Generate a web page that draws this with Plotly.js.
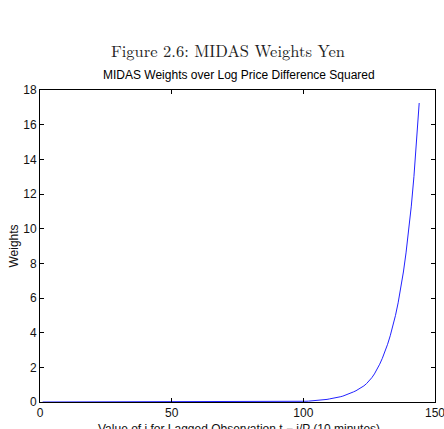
<!DOCTYPE html>
<html>
<head>
<meta charset="utf-8">
<script src="https://cdn.plot.ly/plotly-3.0.1.min.js"></script>
<style>
html,body{margin:0;padding:0;background:#fff;}
#chart{width:444px;height:429px;}
</style>
</head>
<body>
<div id="chart"></div>
<script>
// Lag index i (10-minute intervals)
var lagIndex = [1, 10, 20, 30, 40, 50, 60, 70, 80, 85, 90, 92, 94, 96, 98, 100, 101, 102, 103, 104, 105, 106, 107, 108, 109,
  110, 111, 112, 113, 114, 115, 116, 117, 118, 119, 120, 121, 122, 123, 124, 125, 126, 127, 128, 129,
  130, 131, 132, 133, 134, 135, 136, 137, 138, 139, 140, 141, 142, 143, 144];
// MIDAS weights
var weights = [0, 0, 0, 0, 0, 0, 0, 0.0002, 0.001, 0.003, 0.007, 0.01, 0.014, 0.02, 0.027, 0.037, 0.043, 0.05, 0.06, 0.07, 0.08, 0.095, 0.11, 0.13, 0.15,
  0.18, 0.2, 0.23, 0.26, 0.3, 0.34, 0.39, 0.45, 0.51, 0.58, 0.65, 0.73, 0.82, 0.93, 1.06, 1.22, 1.4, 1.62, 1.88, 2.18,
  2.52, 2.9, 3.33, 3.82, 4.38, 5.0, 5.72, 6.55, 7.5, 8.6, 9.85, 11.3, 13.0, 15.0, 17.25];
var xTicks = [0, 50, 100, 150];
var yTicks = [0, 2, 4, 6, 8, 10, 12, 14, 16, 18];

var figureTitle = "Figure 2.6: MIDAS Weights Yen";
var plotTitle = "MIDAS Weights over Log Price Difference Squared";
var xTitle = "Value of i for Lagged Observation t \u2212 i/P (10 minutes)";
var yTitle = "Weights";

var axisFont = {family: "Liberation Sans, Arial, sans-serif", size: 12, color: "#111"};

var trace = {
  x: lagIndex, y: weights, type: "scatter", mode: "lines",
  line: {color: "#2222ff", width: 1}, hoverinfo: "skip"
};

var layout = {
  width: 444, height: 429,
  margin: {l: 40, r: 9, t: 90, b: 27},
  paper_bgcolor: "#fff", plot_bgcolor: "#fff",
  showlegend: false,
  xaxis: {
    range: [0, 150], tickvals: xTicks, ticktext: xTicks.map(String),
    ticks: "inside", ticklen: 4, tickcolor: "#000", tickwidth: 1,
    showline: true, linecolor: "#000", linewidth: 1, mirror: "ticks",
    showgrid: false, zeroline: false, tickfont: axisFont, fixedrange: true,
    ticklabeloverflow: "allow"
  },
  yaxis: {
    range: [0, 18], tickvals: yTicks, ticktext: yTicks.map(String),
    ticks: "inside", ticklen: 4, tickcolor: "#000", tickwidth: 1,
    showline: true, linecolor: "#000", linewidth: 1, mirror: "ticks",
    showgrid: false, zeroline: false, tickfont: axisFont, fixedrange: true,
    title: {text: yTitle, font: axisFont, standoff: 2}
  },
  annotations: [
    {text: figureTitle, xref: "paper", yref: "paper", x: 0.477, y: 1, yshift: 40,
     xanchor: "center", yanchor: "middle", showarrow: false,
     font: {family: "Latin Modern Roman, DejaVu Serif, Liberation Serif, serif", size: 16.5, color: "#222"}},
    {text: plotTitle, xref: "paper", yref: "paper", x: 0.503, y: 1, yshift: 15,
     xanchor: "center", yanchor: "middle", showarrow: false,
     font: {family: "Liberation Sans, Arial, sans-serif", size: 12, color: "#000"}},
    {text: xTitle, xref: "paper", yref: "paper", x: 0.503, y: 0, yshift: -27,
     xanchor: "center", yanchor: "middle", showarrow: false,
     font: axisFont}
  ]
};

Plotly.newPlot("chart", [trace], layout, {displayModeBar: false, staticPlot: true});
</script>
</body>
</html>
